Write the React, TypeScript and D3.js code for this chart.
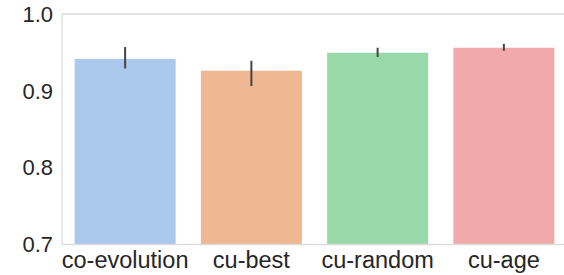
import { useEffect, useRef } from 'react';
import * as d3 from 'd3';

const categories = ['co-evolution', 'cu-best', 'cu-random', 'cu-age'];
const means = [0.9415, 0.926, 0.9495, 0.956];
const errLow = [0.929, 0.906, 0.944, 0.952];
const errHigh = [0.957, 0.939, 0.956, 0.961];
const colors = ['#abc9ec', '#f0b892', '#99d9a9', '#f1aaa9'];
const yTicks = [0.7, 0.8, 0.9, 1.0];

const W = 564;
const H = 275;

export default function App() {
  const svgRef = useRef<SVGSVGElement | null>(null);

  useEffect(() => {
    if (!svgRef.current) return;
    const svg = d3.select(svgRef.current);
    svg.selectAll('*').remove();

    const left = 62, top = 14, bottom = 244, right = 567;
    const font = '"Liberation Sans", Arial, sans-serif';
    const textColor = '#262626';

    const x = d3.scaleBand().domain(categories).range([left, right]).paddingInner(0.2).paddingOuter(0.1);
    const y = d3.scaleLinear().domain([0.7, 1.0]).range([bottom, top]);

    // bars
    svg.append('g').selectAll('rect').data(categories).join('rect')
      .attr('x', d => x(d)!).attr('width', x.bandwidth())
      .attr('y', (d, i) => y(means[i])).attr('height', (d, i) => bottom - y(means[i]))
      .attr('fill', (d, i) => colors[i]);

    // error bars
    svg.append('g').selectAll('line').data(categories).join('line')
      .attr('x1', d => x(d)! + x.bandwidth() / 2).attr('x2', d => x(d)! + x.bandwidth() / 2)
      .attr('y1', (d, i) => y(errLow[i])).attr('y2', (d, i) => y(errHigh[i]))
      .attr('stroke', '#444').attr('stroke-width', 2);

    // spines
    const sp = svg.append('g').attr('stroke', '#dcdcdc').attr('stroke-width', 1.3).attr('fill', 'none');
    sp.append('line').attr('x1', left).attr('x2', right).attr('y1', top).attr('y2', top);
    sp.append('line').attr('x1', left).attr('x2', right).attr('y1', bottom + 0.5).attr('y2', bottom + 0.5);
    sp.append('line').attr('x1', left).attr('x2', left).attr('y1', top).attr('y2', bottom + 0.5);

    // y tick labels
    svg.append('g').selectAll('text').data(yTicks).join('text')
      .attr('x', 53).attr('y', d => y(d)).attr('dy', '0.36em')
      .attr('text-anchor', 'end').style('font-family', font).style('font-size', '22px')
      .style('fill', textColor).text(d => d.toFixed(1));

    // x tick labels
    svg.append('g').selectAll('text').data(categories).join('text')
      .attr('x', d => x(d)! + x.bandwidth() / 2).attr('y', 268)
      .attr('text-anchor', 'middle').style('font-family', font).style('font-size', '23.5px')
      .style('fill', textColor).text(d => d);
  }, []);

  return (
    <svg ref={svgRef} width={W} height={H}
      style={{ position: 'fixed', left: 0, top: 0, background: '#fff', display: 'block' }} />
  );
}
